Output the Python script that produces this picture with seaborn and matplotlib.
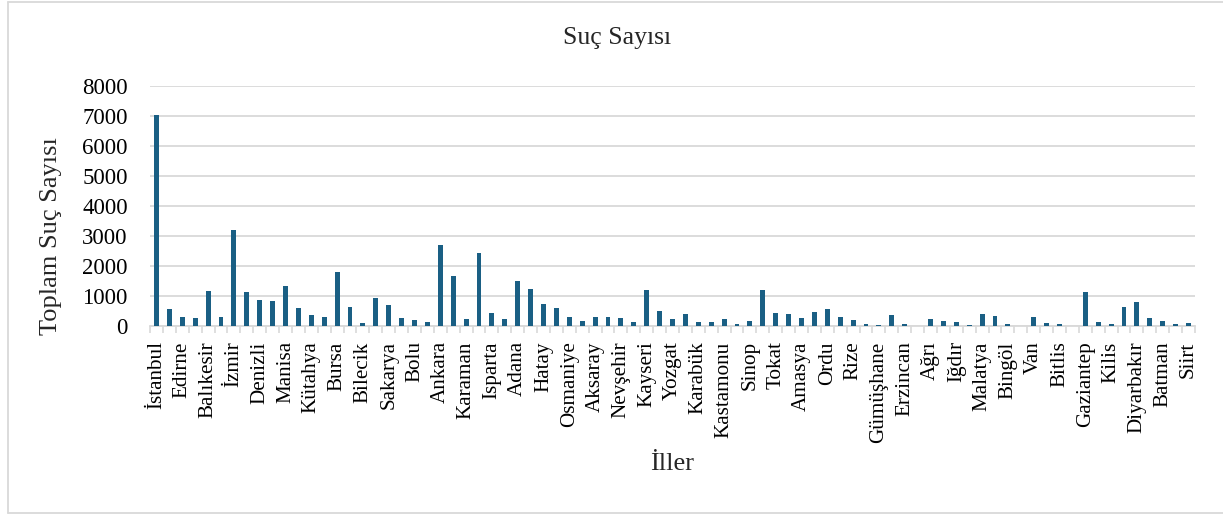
import matplotlib
matplotlib.use("Agg")
import matplotlib.pyplot as plt
import seaborn as sns
import pandas as pd
import numpy as np
from matplotlib.lines import Line2D

provinces = ["İstanbul", "Tekirdağ", "Edirne", "Kırklareli", "Balıkesir", "Çanakkale",
             "İzmir", "Aydın", "Denizli", "Muğla", "Manisa", "Afyonkarahisar", "Kütahya",
             "Uşak", "Bursa", "Eskişehir", "Bilecik", "Kocaeli", "Sakarya", "Düzce", "Bolu",
             "Yalova", "Ankara", "Konya", "Karaman", "Antalya", "Isparta", "Burdur", "Adana",
             "Mersin", "Hatay", "Kahramanmaraş", "Osmaniye", "Kırıkkale", "Aksaray", "Niğde",
             "Nevşehir", "Kırşehir", "Kayseri", "Sivas", "Yozgat", "Zonguldak", "Karabük",
             "Bartın", "Kastamonu", "Çankırı", "Sinop", "Samsun", "Tokat", "Çorum", "Amasya",
             "Trabzon", "Ordu", "Giresun", "Rize", "Artvin", "Gümüşhane", "Erzurum",
             "Erzincan", "Bayburt", "Ağrı", "Kars", "Iğdır", "Ardahan", "Malatya", "Elazığ",
             "Bingöl", "Tunceli", "Van", "Muş", "Bitlis", "Hakkari", "Gaziantep", "Adıyaman",
             "Kilis", "Şanlıurfa", "Diyarbakır", "Mardin", "Batman", "Şırnak", "Siirt"]

crime_counts = [7050, 576, 310, 255, 1153, 288, 3193, 1120, 865, 831, 1330, 588, 377,
                310, 1796, 621, 100, 931, 687, 277, 200, 133, 2700, 1667, 244, 2422, 433,
                222, 1500, 1222, 722, 589, 289, 156, 311, 311, 267, 144, 1211, 489, 222,
                400, 133, 122, 233, 56, 167, 1200, 433, 389, 267, 456, 567, 300, 200, 56,
                44, 356, 67, 8, 222, 156, 133, 33, 389, 344, 78, 6, 311, 89, 56, 6, 1122,
                133, 56, 644, 789, 267, 167, 56, 89]

title_text = "Suç Sayısı"
x_label = "İller"
y_label = "Toplam Suç Sayısı"
y_ticks = [0, 1000, 2000, 3000, 4000, 5000, 6000, 7000, 8000]

df = pd.DataFrame({"il": provinces, "suc": crime_counts})

sns.set_theme(style="white")
plt.rcParams["font.family"] = ["Liberation Serif", "DejaVu Serif"]

fig = plt.figure(figsize=(12.23, 5.14), dpi=100)
ax = fig.add_axes([150 / 1223, 1 - 326 / 514, 1045 / 1223, 240 / 514])

sns.barplot(data=df, x="il", y="suc", order=provinces, color="#1a5f84",
            width=0.38, saturation=1, linewidth=0, ax=ax, zorder=3)

ax.set_xlim(-0.5, len(provinces) - 0.5)
ax.set_ylim(0, 8000)
ax.set_yticks(y_ticks)
ax.set_yticklabels([str(v) for v in y_ticks], fontsize=16.5)
ax.yaxis.grid(True, color="#d9d9d9", linewidth=1.3)
ax.set_axisbelow(True)

idx = list(range(0, len(provinces), 2))
ax.set_xticks(idx)
ax.set_xticklabels([provinces[i] for i in idx], rotation=90, fontsize=15.2, va="top")
ax.set_xticks(np.arange(-0.5, len(provinces), 1), minor=True)
ax.tick_params(axis="x", which="major", length=0, pad=11, colors="black")
ax.tick_params(axis="x", which="minor", length=5, width=1.2, color="#d9d9d9", bottom=True)
ax.tick_params(axis="y", length=0, pad=16, colors="black")

for s in ["top", "right", "left"]:
    ax.spines[s].set_visible(False)
ax.spines["bottom"].set_color("#d9d9d9")
ax.spines["bottom"].set_linewidth(1.3)
ax.spines["bottom"].set_zorder(2)

ax.set_xlabel(x_label, fontsize=19, va="center")
ax.xaxis.set_label_coords((672 - 150) / 1045, -(464 - 326) / 240)
ax.set_ylabel(y_label, fontsize=19, va="center")
ax.yaxis.set_label_coords((51 - 150) / 1045, (326 - 236) / 240)
fig.text(617 / 1223, 1 - 38 / 514, title_text, fontsize=18.5, ha="center", va="center")

# chart border
bc = "#d9d9d9"
x0, y0, y1 = 8 / 1223, 1 - 512.5 / 514, 1 - 1.5 / 514
fig.add_artist(Line2D([x0, x0], [y0, y1], color=bc, lw=1.3, transform=fig.transFigure))
fig.add_artist(Line2D([x0, 1], [y1, y1], color=bc, lw=1.3, transform=fig.transFigure))
fig.add_artist(Line2D([x0, 1], [y0, y0], color=bc, lw=1.3, transform=fig.transFigure))

fig.savefig("out.png", dpi=100)
